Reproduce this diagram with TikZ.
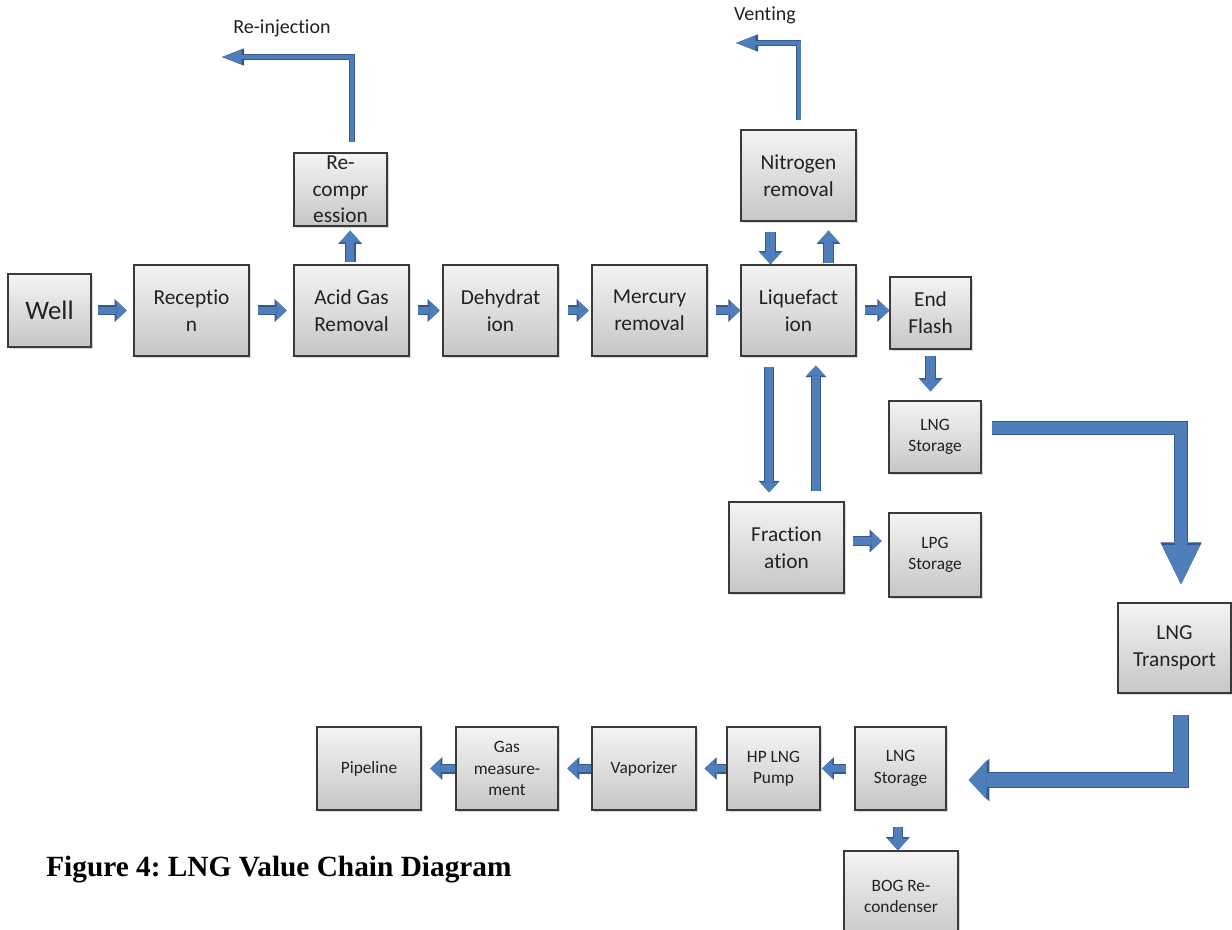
\documentclass[tikz,border=0pt]{standalone}
\usepackage{fontspec}
\setmainfont[Ligatures=NoCommon]{Carlito}
\newfontfamily\capfont{Liberation Serif}
\usetikzlibrary{arrows.meta,shadows}
\definecolor{abl}{HTML}{4F7FBA}
\definecolor{abd}{HTML}{35598A}
\definecolor{bord}{HTML}{3A3A3A}
\definecolor{txt}{HTML}{222222}
\definecolor{boxtop}{HTML}{F4F4F4}
\definecolor{boxbot}{HTML}{C6C6C6}
\newcommand\fszW{\fontsize{20}{24}\selectfont}
\newcommand\fszL{\fontsize{16}{20}\selectfont}
\newcommand\fszS{\fontsize{13}{16}\selectfont}
\frenchspacing
\begin{document}
\begin{tikzpicture}[x=0.75pt,y=-0.75pt,
  box/.style={draw=bord, line width=0.9pt, top color=boxtop, bottom color=boxbot,
    drop shadow={shadow xshift=1.5pt, shadow yshift=-1.5pt, opacity=0.3},
    align=center, inner sep=0pt, text=txt, font=\fszL},
  sz/.style 2 args={minimum width=#1*0.75pt, minimum height=#2*0.75pt},
  small/.style={font=\fszS},
  lbl/.style={inner sep=0pt, text=txt, font=\fontsize{15}{18}\selectfont},
  barr/.style n args={6}{draw=abl, line width=#1, line join=miter,
    -{Triangle[width=#2,length=#3,line width=0pt]},
    preaction={draw=abd, line width=#4, -{Triangle[width=#5,length=#6,line width=0pt]}}},
  hs/.style={barr={5.8pt}{14.5pt}{7.8pt}{7.5pt}{17pt}{9pt}},
  vs/.style={barr={6.4pt}{15.5pt}{8.8pt}{8pt}{18pt}{10pt}},
  vl/.style={barr={6pt}{13.5pt}{7.5pt}{7.5pt}{16pt}{8.7pt}},
  thn/.style={barr={3pt}{10.5pt}{14.5pt}{4.4pt}{13pt}{16.5pt}},
  bt/.style={barr={9.5pt}{28.5pt}{29.5pt}{11pt}{31pt}{31.5pt}},
  bb/.style={barr={10.3pt}{29.5pt}{13.5pt}{11.8pt}{32pt}{15.5pt}}
]
\useasboundingbox (0,0) rectangle (1232,930);
\clip (0,0) rectangle (1232,930);

% boxes
\node[box, sz={83}{73}, font=\fszW] (well) at (49.5,310.5) {Well};
\node[box, sz={115}{91}] (rec) at (191.5,310.5) {Receptio\\n};
\node[box, sz={115}{91}] (agr) at (351.5,310.5) {Acid Gas\\Removal};
\node[box, sz={93}{73}] (rcp) at (340.5,189.5) {Re-\\compr\\ession};
\node[box, sz={115}{91}] (deh) at (500.5,310.5) {Dehydrat\\ion};
\node[box, sz={115}{91}] (mer) at (649.5,310.5) {Mercury\\removal};
\node[box, sz={115}{91}] (liq) at (798.5,310.5) {Liquefact\\ion};
\node[box, sz={115}{91}] (nit) at (798.5,175.5) {Nitrogen\\removal};
\node[box, sz={81}{72}] (ef) at (930.5,313) {End\\Flash};
\node[box, small, sz={92}{72}] (lngs) at (935,437) {LNG\\Storage};
\node[box, sz={115}{91}] (frac) at (786.5,547.5) {Fraction\\ation};
\node[box, small, sz={92}{84}] (lpg) at (935,555) {LPG\\Storage};
\node[box, sz={113}{90}] (lngt) at (1174.5,648) {LNG\\Transport};
\node[box, small, sz={91}{83}] (lngs2) at (900.5,768.5) {LNG\\Storage};
\node[box, small, sz={93}{83}] (hp) at (773.5,768.5) {HP LNG\\Pump};
\node[box, small, sz={104}{83}] (vap) at (644,768.5) {Vaporizer};
\node[box, small, sz={102}{83}] (gas) at (507,768.5) {Gas\\measure-\\ment};
\node[box, small, sz={104}{83}] (pip) at (369,768.5) {Pipeline};
\node[box, small, sz={114}{91}] (bog) at (901,896.5) {BOG Re-\\condenser};

% labels
\node[lbl] (reinjl) at (282,28) {Re-injection};
\node[lbl] (ventl) at (765,15) {Venting};
\node[anchor=base west, inner sep=0pt, font=\capfont\bfseries\fontsize{22}{26}\selectfont] (cap) at (46,876) {Figure 4: LNG Value Chain Diagram};

\coordinate (reinj) at (222,57);
\coordinate (vent) at (736,43);

% main row
\draw[hs,shorten <=5pt,shorten >=5pt] (well) -- (rec);
\draw[hs,shorten <=6pt,shorten >=5pt] (rec) -- (agr);
\draw[hs,shorten <=6pt,shorten >=2pt] (agr) -- (deh);
\draw[hs,shorten <=7pt,shorten >=2pt] (deh) -- (mer);
\draw[hs,shorten <=6pt,shorten >=0pt] (mer) -- (liq);
\draw[hs,shorten <=6pt] (liq.east) -- (liq.east -| ef.west);

% recompression and re-injection
\draw[vs,shorten <=2pt,shorten >=3pt] ([xshift=-1pt]agr.north) -- ([xshift=-1pt]agr.north |- rcp.south);
\draw[thn,shorten <=8pt] ([xshift=8.6pt]rcp.north) |- (reinj);

% nitrogen removal and venting
\draw[vs,shorten <=7.5pt] ([xshift=-21pt]nit.south) -- ([xshift=-21pt]liq.north);
\draw[vs,shorten <=1pt,shorten >=6.75pt] ([xshift=22.5pt]liq.north) -- ([xshift=22.5pt]nit.south);
\draw[thn,shorten <=6.75pt] (nit.north) |- (vent);

% fractionation
\draw[vl,shorten <=7.5pt,shorten >=6.75pt] ([xshift=-22pt]liq.south) -- ([xshift=-22pt]liq.south |- frac.north);
\draw[vl,shorten <=7.5pt,shorten >=6.75pt] ([xshift=13pt]liq.south |- frac.north) -- ([xshift=13pt]liq.south);
\draw[hs,shorten <=6pt,shorten >=5pt] ([yshift=4.9pt]frac.east) -- ([yshift=4.9pt]frac.east -| lpg.west);

% LNG storage / transport
\draw[vs,shorten <=4.5pt,shorten >=6.75pt] (ef.south) -- (ef.south |- lngs.north);
\draw[bt,shorten <=7.5pt,shorten >=13.5pt] ([yshift=6.75pt]lngs.east) -| ([xshift=4.9pt]lngt.north);
\draw[bb,shorten <=15.75pt,shorten >=16.5pt] ([xshift=4.9pt]lngt.south) |- ([yshift=-8.6pt]lngs2.east);

% bottom row
\draw[hs,shorten <=6pt,shorten >=1pt] (lngs2) -- (hp);
\draw[hs,shorten >=6pt] (hp) -- (vap);
\draw[hs,shorten >=6.5pt] (vap) -- (gas);
\draw[hs,shorten >=6.5pt] (gas) -- (pip);
\draw[vs,shorten <=12pt] ([xshift=-2pt]lngs2.south) -- ([xshift=-2pt]lngs2.south |- bog.north);
\end{tikzpicture}
\end{document}
